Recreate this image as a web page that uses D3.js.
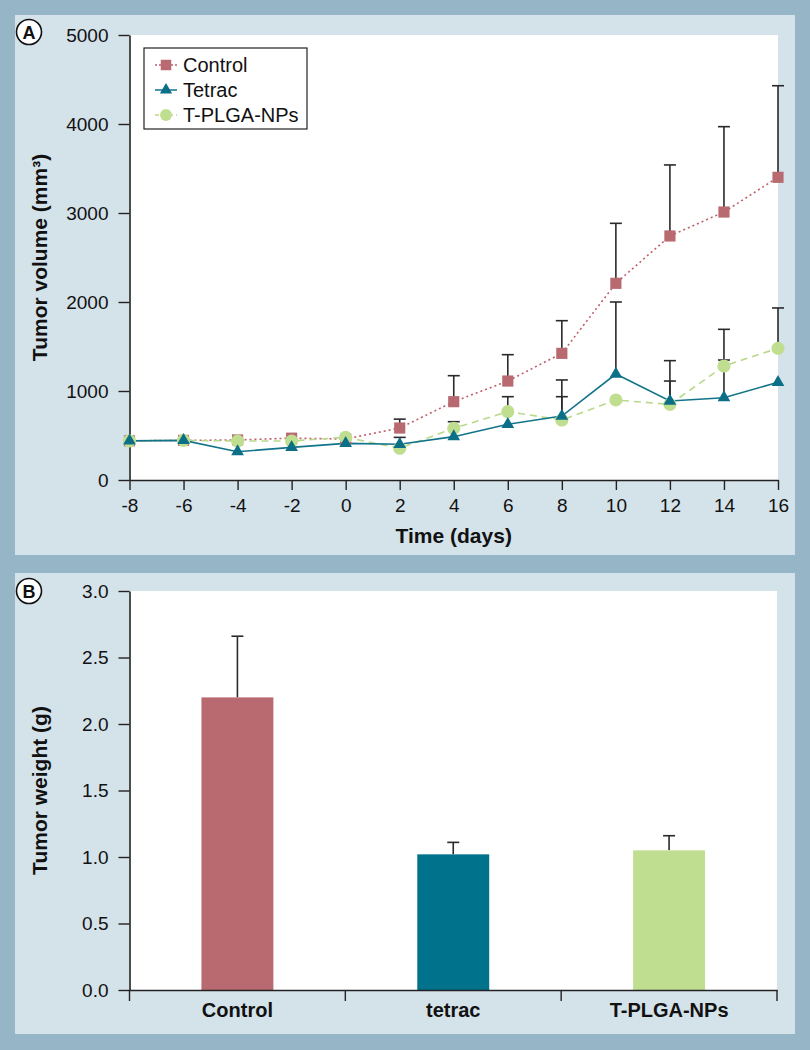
<!DOCTYPE html>
<html>
<head>
<meta charset="utf-8">
<title>Tumor volume and weight</title>
<script src="https://d3js.org/d3.v7.min.js"></script>
<style>
  body { margin: 0; background: #96b5c7; }
  svg { display: block; font-family: "Liberation Sans", Arial, sans-serif; }
  .tick text { font-size: 19px; fill: #111; }
  .title { font-weight: bold; font-size: 21px; fill: #111; }
  .cat .tick text { font-weight: bold; font-size: 20px; }
</style>
</head>
<body>
<div id="chart"></div>
<script>
// ---- data ----
var days = [-8, -6, -4, -2, 0, 2, 4, 6, 8, 10, 12, 14, 16];
var controlVol = [440, 445, 450, 470, 460, 584, 880, 1112, 1423, 2210, 2742, 3011, 3401];
var controlErr = [0, 0, 0, 0, 0, 100, 292, 296, 367, 674, 798, 959, 1029];
var tetracVol = [440, 445, 318, 367, 412, 401, 487, 626, 719, 1191, 888, 925, 1098];
var tetracErr = [0, 0, 0, 0, 0, 78, 0, 0, 405, 809, 453, 423, 0];
var npVol = [440, 445, 438, 438, 480, 356, 580, 768, 674, 899, 850, 1281, 1480];
var npErr = [0, 0, 0, 0, 0, 0, 75, 168, 262, 0, 262, 412, 453];
var volTicks = [0, 1000, 2000, 3000, 4000, 5000];
var dayTicks = days;

var weightGroups = ["Control", "tetrac", "T-PLGA-NPs"];
var weightMean = [2.20, 1.02, 1.05];
var weightErr = [0.46, 0.09, 0.11];
var weightTicks = [0, 0.5, 1.0, 1.5, 2.0, 2.5, 3.0];

var colors = { control: "#b86a70", tetrac: "#0a6f87", np: "#c0de90" };
var lineColors = { control: "#c0606b", tetrac: "#12738a", np: "#b9d98a" };

var W = 810, H = 1050;
var svg = d3.select("#chart").append("svg").attr("width", W).attr("height", H);

svg.append("rect").attr("width", W).attr("height", H).attr("fill", "#96b5c7");
// panels
svg.append("rect").attr("x", 15).attr("y", 15).attr("width", 780).attr("height", 540).attr("fill", "#d4e2ea");
svg.append("rect").attr("x", 15).attr("y", 573).attr("width", 780).attr("height", 461).attr("fill", "#d4e2ea");

function panelLabel(cx, cy, t) {
  svg.append("circle").attr("cx", cx).attr("cy", cy).attr("r", 12.5)
    .attr("fill", "#fff").attr("stroke", "#111").attr("stroke-width", 1.6);
  svg.append("text").attr("x", cx).attr("y", cy + 6.5).attr("text-anchor", "middle")
    .attr("font-weight", "bold").attr("font-size", 18).attr("fill", "#111").text(t);
}

function styleAxis(g) {
  g.select(".domain").attr("stroke", "#222").attr("stroke-width", 1.6);
  g.selectAll(".tick line").attr("stroke", "#222").attr("stroke-width", 1.4);
}
var plain = function(d) { return String(d); };   // hyphen minus like the original

// ================= Panel A =================
var xA = d3.scaleLinear().domain([-8, 16]).range([129.5, 778]);
var yA = d3.scaleLinear().domain([0, 5000]).range([480, 35]);

svg.append("rect").attr("x", xA(-8)).attr("y", yA(5000))
  .attr("width", xA(16) - xA(-8)).attr("height", yA(0) - yA(5000)).attr("fill", "#fff");

svg.append("g").attr("transform", "translate(" + xA(-8) + ",0)")
  .call(d3.axisLeft(yA).tickValues(volTicks).tickSize(11).tickSizeOuter(0).tickPadding(10).tickFormat(plain))
  .call(styleAxis);
svg.append("g").attr("transform", "translate(0," + yA(0) + ")")
  .call(d3.axisBottom(xA).tickValues(dayTicks).tickSize(10).tickSizeOuter(0).tickPadding(9).tickFormat(plain))
  .call(styleAxis);

svg.append("text").attr("class", "title").attr("text-anchor", "middle")
  .attr("transform", "translate(47," + yA(2500) + ") rotate(-90)")
  .text("Tumor volume (mm³)");
svg.append("text").attr("class", "title").attr("text-anchor", "middle")
  .attr("x", xA(4)).attr("y", 543).text("Time (days)");

var series = [
  { key: "control", vals: controlVol, err: controlErr, sym: d3.symbolSquare, size: 125, dash: "2,3" },
  { key: "np", vals: npVol, err: npErr, sym: d3.symbolCircle, size: 135, dash: "7,5" },
  { key: "tetrac", vals: tetracVol, err: tetracErr, sym: d3.symbolTriangle, size: 70, dash: null }
];

// error bars (upper only)
series.forEach(function(s) {
  days.forEach(function(d, i) {
    if (!s.err[i]) return;
    var x = xA(d), y0 = yA(s.vals[i]), y1 = yA(s.vals[i] + s.err[i]);
    svg.append("line").attr("x1", x).attr("x2", x).attr("y1", y0).attr("y2", y1)
      .attr("stroke", "#2a2a2a").attr("stroke-width", 1.6);
    svg.append("line").attr("x1", x - 6).attr("x2", x + 6).attr("y1", y1).attr("y2", y1)
      .attr("stroke", "#2a2a2a").attr("stroke-width", 1.6);
  });
});

var line = d3.line().x(function(d) { return xA(d[0]); }).y(function(d) { return yA(d[1]); });
series.forEach(function(s) {
  svg.append("path").datum(days.map(function(d, i) { return [d, s.vals[i]]; }))
    .attr("fill", "none").attr("stroke", lineColors[s.key]).attr("stroke-width", 1.6)
    .attr("stroke-dasharray", s.dash).attr("d", line);
});
series.forEach(function(s) {
  svg.append("g").selectAll("path").data(days).enter().append("path")
    .attr("transform", function(d, i) { return "translate(" + xA(d) + "," + yA(s.vals[i]) + ")"; })
    .attr("d", d3.symbol().type(s.sym).size(s.size))
    .attr("fill", colors[s.key]);
});

// legend
var legend = svg.append("g").attr("transform", "translate(144,48)");
legend.append("rect").attr("width", 163).attr("height", 81).attr("fill", "#fff")
  .attr("stroke", "#222").attr("stroke-width", 1.2);
var legItems = [
  { key: "control", label: "Control", sym: d3.symbolSquare, size: 110, dash: "2,2" },
  { key: "tetrac", label: "Tetrac", sym: d3.symbolTriangle, size: 65, dash: null },
  { key: "np", label: "T-PLGA-NPs", sym: d3.symbolCircle, size: 110, dash: "4,3" }
];
legItems.forEach(function(it, i) {
  var y = 17 + i * 25;
  legend.append("line").attr("x1", 11).attr("x2", 33).attr("y1", y).attr("y2", y)
    .attr("stroke", lineColors[it.key]).attr("stroke-width", 1.5).attr("stroke-dasharray", it.dash);
  legend.append("path").attr("transform", "translate(22," + y + ")")
    .attr("d", d3.symbol().type(it.sym).size(it.size)).attr("fill", colors[it.key]);
  legend.append("text").attr("x", 39).attr("y", y + 7).attr("font-size", 20).attr("fill", "#111").text(it.label);
});

panelLabel(29, 32, "A");

// ================= Panel B =================
var xB = d3.scaleBand().domain(weightGroups).range([129.5, 777]).padding(0);
var yB = d3.scaleLinear().domain([0, 3]).range([990, 591]);

svg.append("rect").attr("x", 129.5).attr("y", yB(3))
  .attr("width", 777 - 129.5).attr("height", yB(0) - yB(3)).attr("fill", "#fff");

var bw = xB.bandwidth() / 3;
weightGroups.forEach(function(g, i) {
  var cx = xB(g) + xB.bandwidth() / 2;
  var yTop = yB(weightMean[i] + weightErr[i]);
  svg.append("line").attr("x1", cx).attr("x2", cx).attr("y1", yB(weightMean[i])).attr("y2", yTop)
    .attr("stroke", "#2a2a2a").attr("stroke-width", 1.6);
  svg.append("line").attr("x1", cx - 6).attr("x2", cx + 6).attr("y1", yTop).attr("y2", yTop)
    .attr("stroke", "#2a2a2a").attr("stroke-width", 1.6);
});
svg.append("g").selectAll("rect").data(weightGroups).enter().append("rect")
  .attr("x", function(d) { return xB(d) + xB.bandwidth() / 2 - bw / 2; })
  .attr("y", function(d, i) { return yB(weightMean[i]); })
  .attr("width", bw)
  .attr("height", function(d, i) { return yB(0) - yB(weightMean[i]); })
  .attr("fill", function(d, i) { return [colors.control, "#00728b", colors.np][i]; });

svg.append("g").attr("transform", "translate(129.5,0)")
  .call(d3.axisLeft(yB).tickValues(weightTicks).tickSize(11).tickSizeOuter(0).tickPadding(10).tickFormat(d3.format(".1f")))
  .call(styleAxis);
var gxB = svg.append("g").attr("class", "cat").attr("transform", "translate(0," + yB(0) + ")")
  .call(d3.axisBottom(xB).tickSize(0).tickSizeOuter(0).tickPadding(13))
  .call(styleAxis);
// category boundary ticks
var bounds = weightGroups.map(function(g) { return xB(g); }).concat([777]);
gxB.selectAll(".bound").data(bounds).enter().append("line")
  .attr("x1", function(d) { return d; }).attr("x2", function(d) { return d; })
  .attr("y1", 0).attr("y2", 11).attr("stroke", "#222").attr("stroke-width", 1.4);

svg.append("text").attr("class", "title").attr("text-anchor", "middle")
  .attr("transform", "translate(47," + yB(1.5) + ") rotate(-90)")
  .text("Tumor weight (g)");

panelLabel(29, 591, "B");
</script>
</body>
</html>
